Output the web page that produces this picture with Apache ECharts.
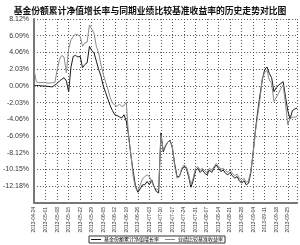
<!DOCTYPE html>
<html><head><meta charset="utf-8">
<script src="https://cdn.jsdelivr.net/npm/echarts@6/dist/echarts.min.js"></script>
<style>html,body{margin:0;padding:0;background:#fff}#c{width:300px;height:245px}</style>
</head><body><div id="c"></div>
<script>
var titleText = '基金份额累计净值增长率与同期业绩比较基准收益率的历史走势对比图';
var seriesNames = ['基金份额累计净值增长率', '业绩比较基准收益率'];
var tickLabels = ['2013-04-24','2013-05-01','2013-05-08','2013-05-15','2013-05-22','2013-05-29','2013-06-05','2013-06-12','2013-06-19','2013-06-26','2013-07-03','2013-07-10','2013-07-17','2013-07-24','2013-07-31','2013-08-07','2013-08-14','2013-08-21','2013-08-28','2013-09-04','2013-09-11','2013-09-18','2013-09-25'];
// one value per trading day (index 0..114)
var fundGrowth = [
 0.0,0.05,0.05,0.0,0.0,-0.05,-0.05,-0.1,-0.1,0.1,
 0.3,0.6,0.8,1.0,0.6,-0.7,2.3,3.6,3.7,3.5,
 3.6,2.2,2.6,2.8,4.8,4.3,4.0,3.0,2.0,1.2,
 0.0,-0.8,-1.6,-2.4,-3.0,-3.5,-3.6,-3.75,-3.9,-3.5,
 -4.3,-6.0,-8.5,-10.4,-12.2,-12.9,-12.5,-12.0,-12.0,-11.6,
 -12.0,-11.4,-12.2,-12.8,-13.0,-5.7,-8.0,-7.3,-6.8,-6.6,
 -7.6,-9.5,-11.0,-11.0,-10.2,-9.8,-10.0,-11.0,-12.3,-11.5,
 -10.3,-10.0,-10.5,-10.2,-10.6,-10.8,-10.2,-10.5,-10.0,-9.6,
 -10.0,-10.4,-10.2,-10.6,-10.8,-10.5,-10.9,-11.2,-11.0,-11.5,
 -11.8,-11.5,-12.0,-11.8,-10.5,-8.0,-5.3,-3.0,-1.0,0.8,
 2.0,2.3,1.5,1.0,-0.7,-0.2,0.1,0.3,0.5,-1.3,
 -3.0,-4.0,-3.0,-2.8,-2.7
];
var benchmark = [
 1.9,0.5,0.4,0.4,0.4,0.4,0.35,0.35,0.4,0.4,
 1.9,3.2,3.7,3.5,1.6,4.5,5.6,6.0,6.3,6.2,
 6.0,4.8,5.2,5.3,7.4,6.9,6.4,4.8,4.0,2.6,
 1.4,0.5,-0.4,-1.4,-2.1,-2.3,-2.5,-2.2,-2.5,-2.4,
 -2.0,-6.3,-8.3,-11.0,-12.4,-12.7,-12.0,-11.3,-11.0,-10.8,
 -11.0,-11.6,-12.3,-12.5,-12.6,-6.0,-7.8,-7.2,-6.8,-6.7,
 -7.5,-9.8,-11.2,-11.0,-10.0,-9.6,-9.8,-10.7,-12.0,-11.2,
 -10.0,-9.8,-10.2,-10.0,-10.3,-10.5,-10.0,-10.2,-9.8,-9.4,
 -9.8,-10.1,-10.0,-10.3,-10.5,-10.2,-10.6,-10.9,-10.7,-11.2,
 -11.5,-11.2,-11.7,-11.5,-10.3,-8.2,-5.5,-3.5,-1.5,1.0,
 1.6,1.9,0.7,0.3,-1.9,-1.4,-0.9,-0.3,0.1,-2.1,
 -4.7,-3.9,-3.8,-3.8,-3.7
];
function pairs(a){ return a.map(function(v,i){ return [i,v]; }); }
var chart = echarts.init(document.getElementById('c'), null, {renderer:'canvas'});
chart.setOption({
  animation:false,
  backgroundColor:'#fff',
  title:{ text:titleText, left:'center', top:1, textStyle:{fontFamily:'Noto Sans CJK SC', fontSize:8.8, fontWeight:'bold', color:'#111'} },
  legend:{ bottom:2, left:89, orient:'horizontal', itemWidth:10, itemHeight:1, itemGap:6, icon:'rect', borderColor:'#333', borderWidth:1, padding:[1,2], textStyle:{fontSize:5, color:'#000', fontFamily:'Noto Sans CJK SC', padding:[0,0,0,-2]}, data:seriesNames },
  grid:{ left:32, right:3, top:19, bottom:42, containLabel:false },
  xAxis:{ type:'value', min:0, max:114, interval:5,
    axisLine:{show:true, onZero:false, lineStyle:{color:'#777', width:2}},
    axisTick:{show:false},
    axisLabel:{ rotate:90, fontSize:5, color:'#333', margin:4, showMaxLabel:false, formatter:function(v){ var k=Math.round(v/5); return tickLabels[k]||''; } },
    splitLine:{show:true, lineStyle:{color:'#555', type:[1,2], width:1}} },
  yAxis:{ type:'value', min:-14.21, max:8.12, interval:2.03,
    axisLine:{show:true, onZero:false, lineStyle:{color:'#777', width:2}},
    axisTick:{show:false},
    axisLabel:{ fontSize:7, color:'#333', margin:5, formatter:function(v){ if (v < -14) return ''; return v.toFixed(2)+'%'; } },
    splitLine:{show:true, lineStyle:{color:'#555', type:[1,2], width:1}} },
  series:[
    { name:seriesNames[0], type:'line', data:pairs(fundGrowth), showSymbol:false, symbol:'none', lineStyle:{color:'#1a1a1a', width:1}, itemStyle:{color:'#1a1a1a'} },
    { name:seriesNames[1], type:'line', data:pairs(benchmark), showSymbol:false, symbol:'none', lineStyle:{color:'#8a8a8a', width:1}, itemStyle:{color:'#8a8a8a'} }
  ]
});
</script></body></html>
